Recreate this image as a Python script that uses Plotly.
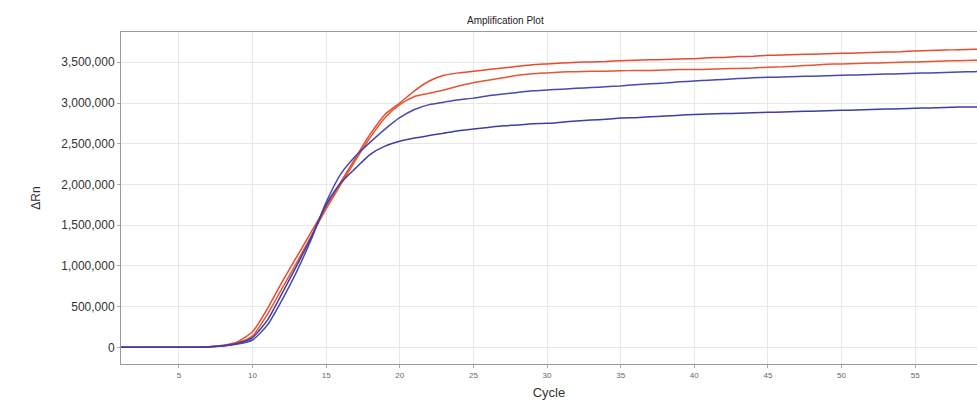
import plotly.graph_objects as go

cycles = list(range(1, 61))

red_1 = [0, 0, 0, 0, 0, 2000, 8000, 25000, 70000, 190000,
         470000, 800000, 1110000, 1420000, 1730000, 2030000, 2330000, 2620000, 2860000, 3000000,
         3150000, 3270000, 3340000, 3370000, 3390000, 3410000, 3430000, 3450000, 3470000, 3480000,
         3490000, 3500000, 3505000, 3510000, 3520000, 3525000, 3530000, 3535000, 3540000, 3545000,
         3555000, 3560000, 3570000, 3575000, 3585000, 3590000, 3595000, 3600000, 3605000, 3610000,
         3615000, 3620000, 3625000, 3630000, 3640000, 3645000, 3650000, 3655000, 3660000, 3665000]

red_2 = [0, 0, 0, 0, 0, 1000, 6000, 20000, 55000, 140000,
         400000, 720000, 1040000, 1370000, 1700000, 2000000, 2300000, 2580000, 2820000, 2980000,
         3080000, 3120000, 3160000, 3210000, 3250000, 3280000, 3310000, 3340000, 3360000, 3370000,
         3380000, 3385000, 3390000, 3390000, 3395000, 3400000, 3400000, 3405000, 3410000, 3410000,
         3415000, 3420000, 3425000, 3430000, 3440000, 3445000, 3455000, 3465000, 3475000, 3480000,
         3485000, 3490000, 3495000, 3500000, 3505000, 3510000, 3515000, 3520000, 3525000, 3530000]

blue_1 = [0, 0, 0, 0, 0, 1000, 4000, 15000, 40000, 90000,
          270000, 580000, 930000, 1330000, 1780000, 2130000, 2350000, 2520000, 2680000, 2820000,
          2920000, 2980000, 3010000, 3040000, 3060000, 3090000, 3110000, 3130000, 3150000, 3160000,
          3170000, 3180000, 3190000, 3200000, 3210000, 3225000, 3235000, 3245000, 3260000, 3270000,
          3280000, 3290000, 3300000, 3310000, 3315000, 3320000, 3325000, 3330000, 3335000, 3340000,
          3345000, 3350000, 3355000, 3360000, 3365000, 3370000, 3375000, 3380000, 3385000, 3390000]

blue_2 = [0, 0, 0, 0, 0, 1000, 5000, 18000, 50000, 120000,
          330000, 660000, 1000000, 1360000, 1750000, 2020000, 2200000, 2370000, 2470000, 2530000,
          2570000, 2600000, 2630000, 2660000, 2680000, 2700000, 2720000, 2730000, 2745000, 2750000,
          2765000, 2780000, 2790000, 2800000, 2815000, 2820000, 2830000, 2840000, 2850000, 2860000,
          2865000, 2870000, 2875000, 2880000, 2885000, 2890000, 2895000, 2900000, 2905000, 2910000,
          2915000, 2920000, 2925000, 2930000, 2935000, 2940000, 2945000, 2950000, 2950000, 2955000]

series_names = ["Sample 1", "Sample 2", "Sample 3", "Sample 4"]
series_values = [red_1, red_2, blue_1, blue_2]
series_colors = ["#E84A30", "#E55634", "#4848B0", "#3E3EA4"]

x_tickvals = [5, 10, 15, 20, 25, 30, 35, 40, 45, 50, 55, 60]
y_tickvals = [0, 500000, 1000000, 1500000, 2000000, 2500000, 3000000, 3500000]
y_ticktext = ["0", "500,000", "1,000,000", "1,500,000", "2,000,000",
              "2,500,000", "3,000,000", "3,500,000"]

fig = go.Figure()
for name, vals, col in zip(series_names, series_values, series_colors):
    fig.add_trace(go.Scatter(
        x=cycles, y=vals, name=name, mode="lines",
        line=dict(color=col, width=1.5, shape="spline", smoothing=0.6),
        showlegend=False,
    ))

fig.update_layout(
    width=977, height=403,
    margin=dict(l=121, r=0, t=32, b=39),
    paper_bgcolor="white", plot_bgcolor="white",
    font=dict(family="Liberation Sans, Arial, sans-serif", color="#333333"),
    title=dict(text="Amplification Plot", x=0.449, xref="paper", xanchor="center",
               y=1 - 20 / 403, yref="container", yanchor="middle",
               font=dict(size=10, color="#222222")),
)

fig.update_xaxes(
    range=[1.07, 59.2],
    tickvals=x_tickvals,
    tickfont=dict(size=8, color="#666666"),
    ticks="outside", ticklen=3, tickcolor="#aaaaaa",
    showline=True, linecolor="#9a9a9a", linewidth=1, mirror=True,
    showgrid=True, gridcolor="#e8e8e8", gridwidth=1,
    zeroline=False, automargin=False,
    title=dict(text="Cycle", font=dict(size=13, color="#333333"), standoff=9),
)

fig.update_yaxes(
    range=[-205000, 3872000],
    tickvals=y_tickvals, ticktext=y_ticktext,
    tickfont=dict(size=12, color="#333333"),
    ticks="outside", ticklen=3, tickcolor="#aaaaaa",
    showline=True, linecolor="#9a9a9a", linewidth=1,
    showgrid=True, gridcolor="#e8e8e8", gridwidth=1,
    zeroline=False, automargin=False,
    title=dict(text="ΔRn", font=dict(size=12, color="#333333"), standoff=18),
)

fig.write_html("out.html",
               config={"displayModeBar": False},
               post_script="document.body.style.margin='0';document.body.style.overflow='hidden';")
